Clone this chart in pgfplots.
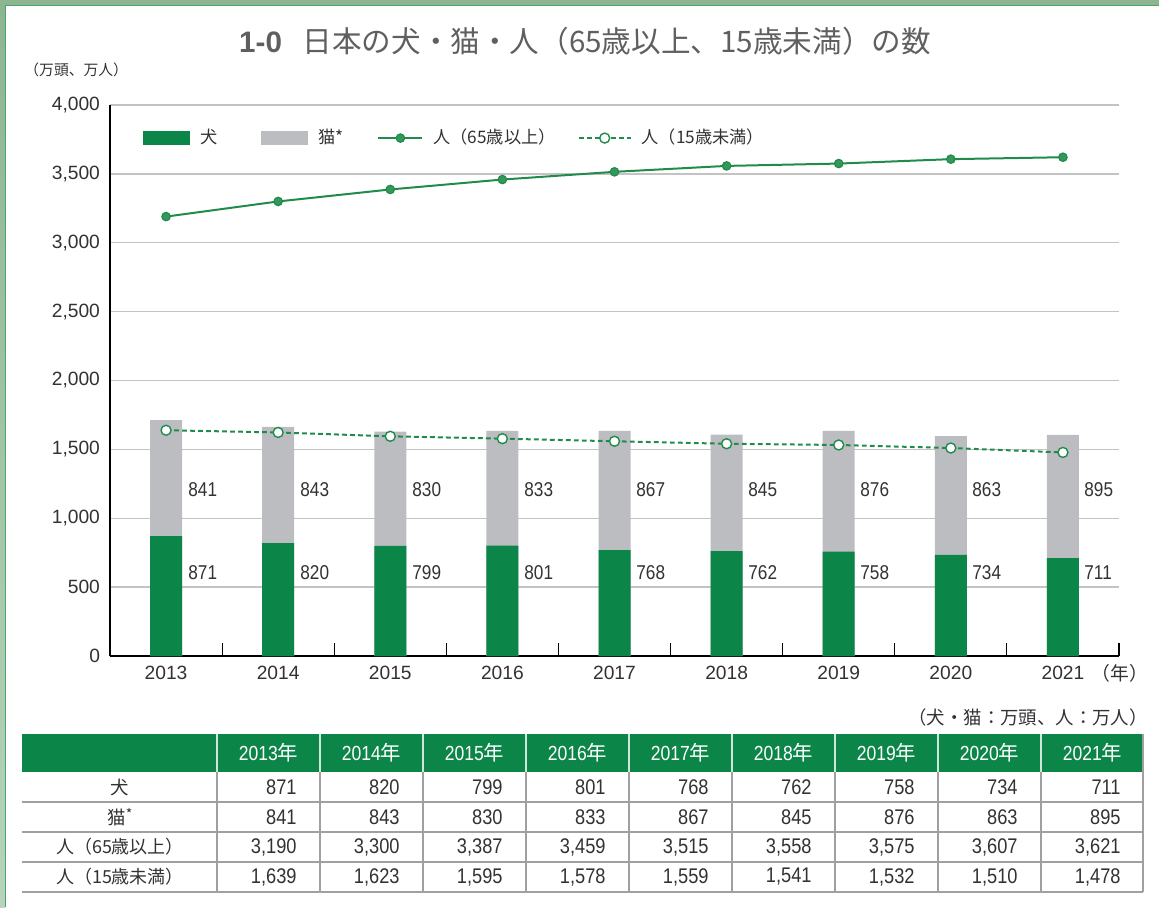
\documentclass[border=0pt]{standalone}
\usepackage{fontspec}
\setmainfont{Liberation Sans}
\newfontfamily\cjk{Noto Sans CJK JP}
\newfontfamily\narrow{Liberation Sans}[FakeStretch=0.86]
\usepackage{pgfplots}
\pgfplotsset{compat=1.18}
\usepackage{pgfplotstable}

\definecolor{barGreen}{RGB}{11,134,72}
\definecolor{catGray}{RGB}{188,189,192}
\definecolor{lineGreen}{RGB}{32,140,76}
\definecolor{markGreen}{RGB}{52,152,90}
\definecolor{gridGray}{RGB}{195,195,195}
\definecolor{txt}{RGB}{50,50,50}
\definecolor{titleGray}{RGB}{95,95,95}
\definecolor{frameGreen}{RGB}{141,181,146}
\definecolor{frameLight}{RGB}{184,210,188}
\definecolor{frameLine}{RGB}{70,168,100}
\definecolor{tblLine}{RGB}{160,160,160}

\pgfplotstableread{
idx year dog cat old young
0 2013 871 841 3190 1639
1 2014 820 843 3300 1623
2 2015 799 830 3387 1595
3 2016 801 833 3459 1578
4 2017 768 867 3515 1559
5 2018 762 845 3558 1541
6 2019 758 876 3575 1532
7 2020 734 863 3607 1510
8 2021 711 895 3621 1478
}\datatable

\newcommand{\numfmt}[1]{\pgfmathprintnumber[assume math mode=true, 1000 sep={,}]{#1}}

\begin{document}
\begin{tikzpicture}
\path[use as bounding box] (0,0) rectangle (579.5pt,-453.5pt);
% frame
\fill[frameGreen] (0,0) rectangle (579.5pt,-2.6pt);
\shade[top color=frameGreen,bottom color=frameLight] (0,0) rectangle (2.6pt,-453.5pt);
\draw[frameLine, line width=0.6pt] (2.9pt,-453.5pt) -- (2.9pt,-2.9pt) -- (579.5pt,-2.9pt);

\begin{axis}[
  at={(55pt,-328pt)}, anchor=south west,
  scale only axis, width=504.5pt, height=275.5pt,
  xmin=-0.5, xmax=8.5, ymin=0, ymax=4000,
  axis x line=bottom, axis y line=left,
  axis line style={-, black, line width=0.75pt},
  xtick={0,...,8}, xticklabels={2013,2014,2015,2016,2017,2018,2019,2020,2021},
  minor xtick={-0.5,0.5,...,8.5},
  ytick={0,500,...,4000},
  major tick length=0pt, minor tick length=6.5pt, tick align=inside,
  minor tick style={black, line width=0.6pt},
  ymajorgrids, major grid style={gridGray, line width=0.7pt},
  tick label style={font=\fontsize{9.6}{11}\selectfont, text=txt},
  /pgf/number format/assume math mode=true,
  yticklabel style={/pgf/number format/1000 sep={,}, xshift=-1.5pt},
  xticklabel style={yshift=-1.5pt},
  legend style={at={(rel axis cs:0.0327,0.940)}, anchor=west, draw=none, fill=none,
    inner sep=0pt, legend columns=-1, font=\fontsize{8.6}{10}\selectfont\cjk, text=txt,
    /tikz/every odd column/.append style={column sep=3pt},
    /tikz/every even column/.append style={column sep=15pt}},
  legend cell align=left,
]
\addplot[ybar, bar width=16pt, bar shift=0pt, fill=catGray, draw=none, forget plot]
  table[x=idx, y expr=\thisrow{dog}+\thisrow{cat}] {\datatable};
\addplot[ybar, bar width=16pt, bar shift=0pt, fill=barGreen, draw=none, forget plot]
  table[x=idx, y=dog] {\datatable};
\addplot[lineGreen, line width=1pt, mark=*, mark size=2.1pt,
  mark options={fill=markGreen, draw=lineGreen, line width=0.6pt}, forget plot]
  table[x=idx, y=old] {\datatable};
\addplot[lineGreen, line width=1pt, dash pattern=on 2.4pt off 1.6pt, mark=*, mark size=2.5pt,
  mark options={solid, fill=white, draw=lineGreen, line width=0.7pt}, forget plot]
  table[x=idx, y=young] {\datatable};

\addlegendimage{legend image code/.code={\fill[barGreen] (0pt,-3.25pt) rectangle (23pt,3.25pt);}}
\addlegendentry{犬\rule{5pt}{0pt}}
\addlegendimage{legend image code/.code={\fill[catGray] (0pt,-3.25pt) rectangle (23pt,3.25pt);}}
\addlegendentry{猫*}
\addlegendimage{legend image code/.code={\draw[lineGreen, line width=1pt] (0pt,0pt) -- (22pt,0pt);
  \fill[markGreen, draw=lineGreen, line width=0.6pt] (11pt,0pt) circle (2.1pt);}}
\addlegendentry{人（65歳以上）\kern-6pt}
\addlegendimage{legend image code/.code={\draw[lineGreen, line width=1pt, dash pattern=on 2.4pt off 1.6pt] (0pt,0pt) -- (26pt,0pt);
  \filldraw[fill=white, draw=lineGreen, line width=0.7pt] (13pt,0pt) circle (2.5pt);}}
\addlegendentry{人（15歳未満）}
\end{axis}

\begin{scope}[x=0.5pt,y=-0.5pt]
% title
\node[text=titleGray, inner sep=0pt] at (585,41)
  {\fontsize{14.8}{17}\selectfont\textbf{1-0}\hspace{0.7em}{\cjk 日本の犬・猫・人（65歳以上、15歳未満）の数}};
\node[text=txt, anchor=west, inner sep=0pt] at (24,70) {\fontsize{7.4}{9}\selectfont\cjk （万頭、万人）};
\node[text=txt, anchor=west, inner sep=0pt] at (1091,673) {\fontsize{9.4}{11}\selectfont\cjk （年）};
% bar labels
\foreach \i in {0,...,8}{
  \pgfplotstablegetelem{\i}{dog}\of\datatable \let\vd\pgfplotsretval
  \pgfplotstablegetelem{\i}{cat}\of\datatable \let\vc\pgfplotsretval
  \node[text=txt, anchor=west, inner sep=0pt] at (188+112*\i,573) {\narrow\fontsize{10}{12}\selectfont \vd};
  \node[text=txt, anchor=west, inner sep=0pt] at (188+112*\i,490) {\narrow\fontsize{10}{12}\selectfont \vc};
}
% unit note
\node[text=txt, anchor=east, inner sep=0pt] at (1148,717) {\fontsize{9.2}{11}\selectfont\cjk （犬・猫：万頭、人：万人）};
% table
\fill[barGreen] (22,734) rectangle (1143,772);
\foreach \x in {217,320,423,526,629,732,835,938,1041}{
  \draw[white!80!barGreen, line width=0.6pt] (\x,734) -- (\x,772);
  \draw[tblLine, line width=0.7pt] (\x,772) -- (\x,892);
}
\draw[tblLine, line width=0.7pt] (1143,734) -- (1143,892);
\foreach \y in {802,832,862}{\draw[tblLine, line width=0.7pt] (22,\y) -- (1143,\y);}
\draw[tblLine, line width=1.1pt] (22,892) -- (1143,892);
\foreach \i in {0,...,8}{
  \pgfplotstablegetelem{\i}{year}\of\datatable \let\vy\pgfplotsretval
  \node[text=white, inner sep=0pt] at (268.5+103*\i,753) {\narrow\fontsize{10.2}{12}\selectfont \vy{\cjk 年}};
  \pgfplotstablegetelem{\i}{dog}\of\datatable \let\va\pgfplotsretval
  \pgfplotstablegetelem{\i}{cat}\of\datatable \let\vb\pgfplotsretval
  \pgfplotstablegetelem{\i}{old}\of\datatable \let\vo\pgfplotsretval
  \pgfplotstablegetelem{\i}{young}\of\datatable \let\vu\pgfplotsretval
  \node[text=txt, anchor=east, inner sep=0pt] at (297+103*\i,787) {\narrow\fontsize{10.6}{12}\selectfont \numfmt{\va}};
  \node[text=txt, anchor=east, inner sep=0pt] at (297+103*\i,817) {\narrow\fontsize{10.6}{12}\selectfont \numfmt{\vb}};
  \node[text=txt, anchor=east, inner sep=0pt] at (297+103*\i,847) {\narrow\fontsize{10.6}{12}\selectfont \numfmt{\vo}};
  \node[text=txt, anchor=east, inner sep=0pt] at (297+103*\i,877) {\narrow\fontsize{10.6}{12}\selectfont \numfmt{\vu}};
}
\node[text=txt, inner sep=0pt] at (120,787) {\fontsize{9.2}{10}\selectfont\cjk 犬};
\node[text=txt, inner sep=0pt] at (120,817) {\fontsize{9.2}{10}\selectfont\cjk 猫\raisebox{0.3em}{\fontsize{7}{8}\selectfont *}};
\node[text=txt, inner sep=0pt] at (120,847) {\fontsize{9}{10}\selectfont\cjk 人（65歳以上）};
\node[text=txt, inner sep=0pt] at (120,877) {\fontsize{9}{10}\selectfont\cjk 人（15歳未満）};
\end{scope}
\end{tikzpicture}
\end{document}
